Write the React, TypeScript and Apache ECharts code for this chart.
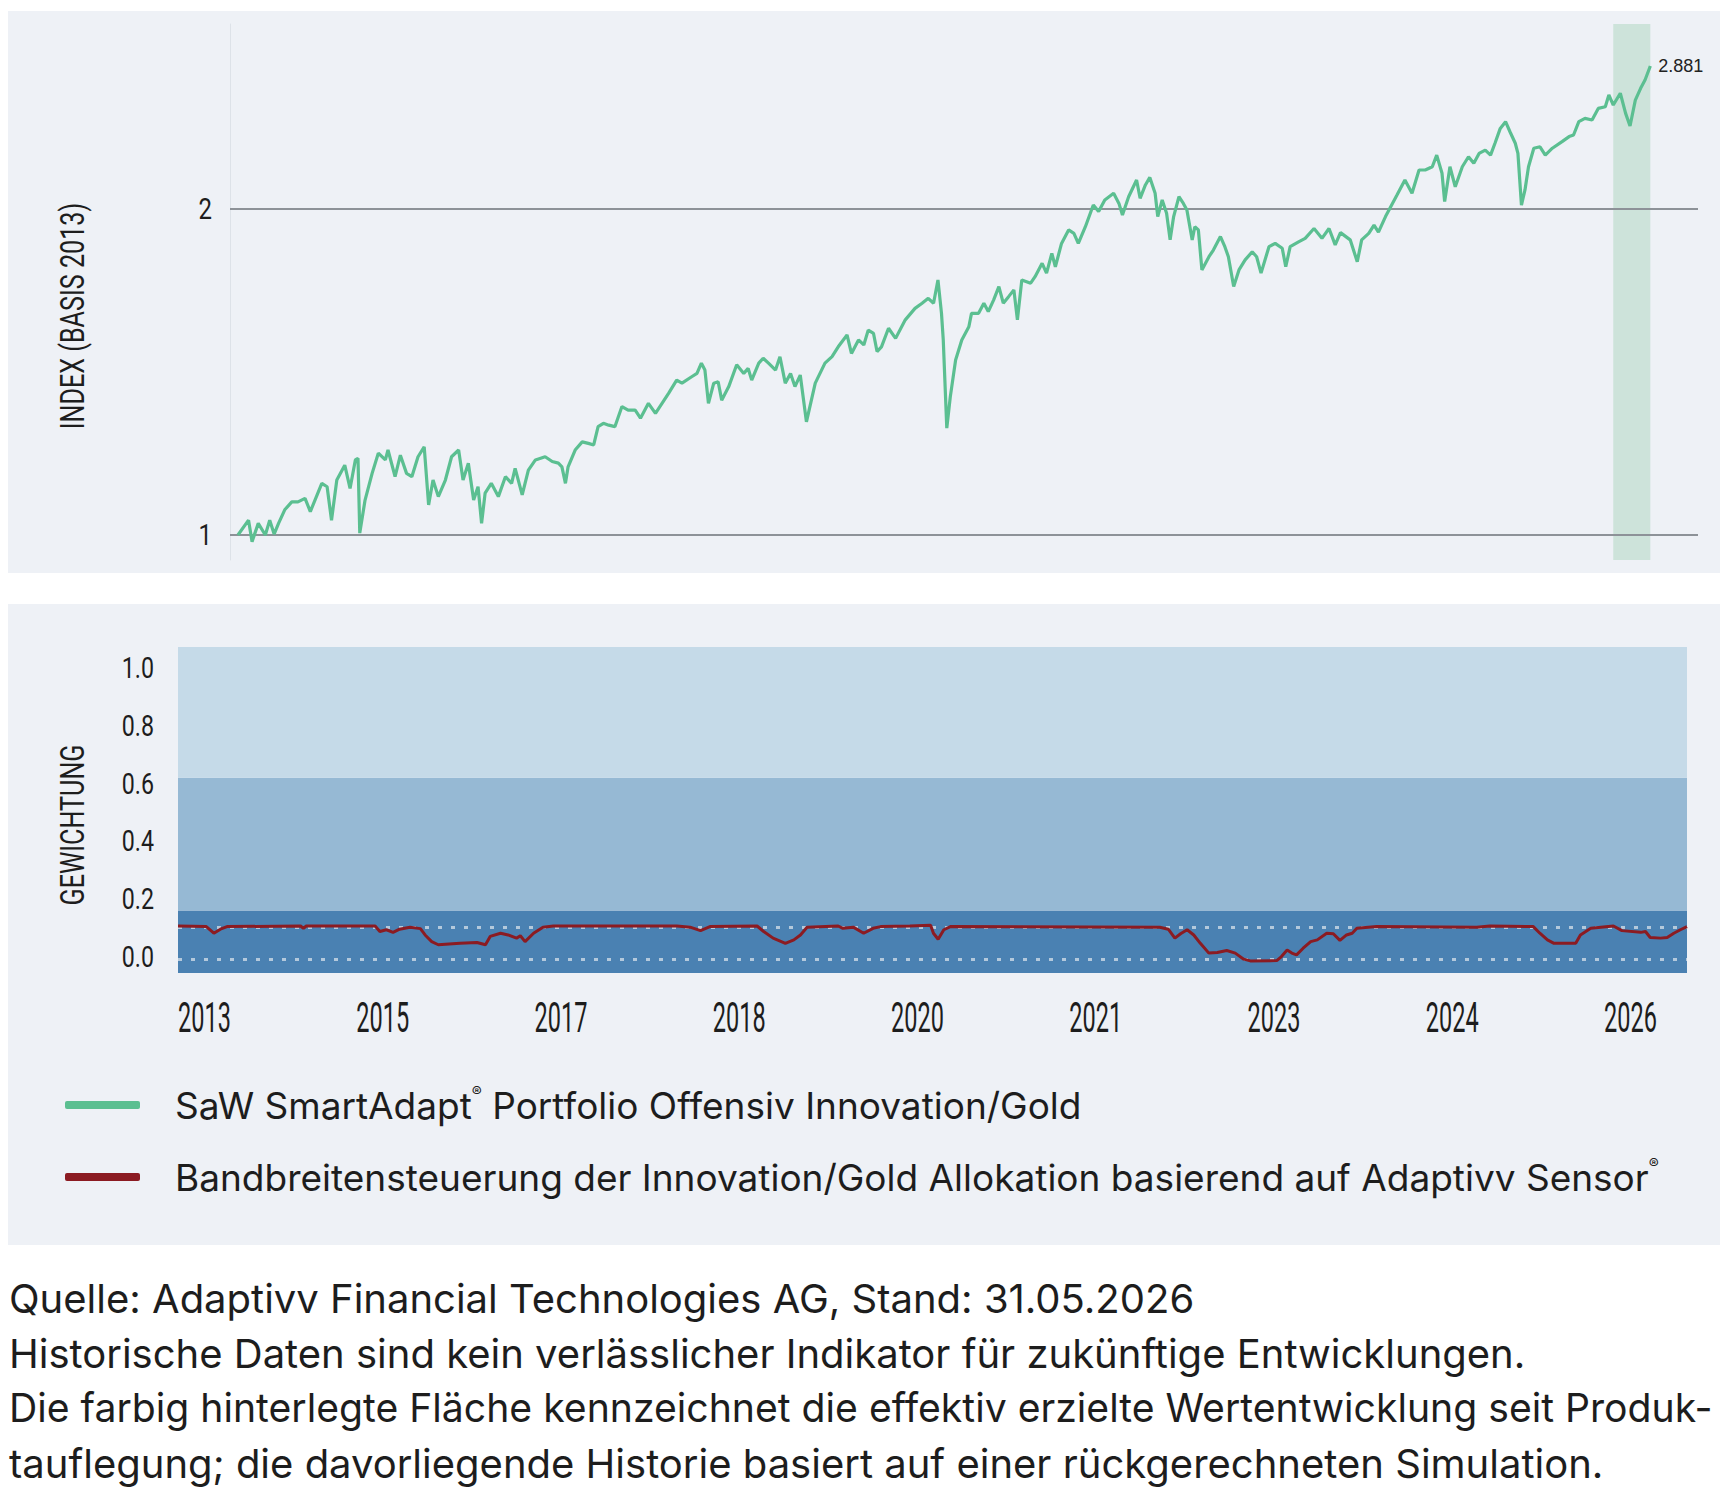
import React, { useEffect, useRef } from "react";
import * as echarts from "echarts";

// fonts
const COND = "Roboto, 'Liberation Sans', sans-serif"; // squeezed with scaleX below
const SANS = "Inter, 'Noto Sans', sans-serif";

const INDEX_NAME = "SaW SmartAdapt® Portfolio Offensiv Innovation/Gold";
const WEIGHT_NAME =
  "Bandbreitensteuerung der Innovation/Gold Allokation basierend auf Adaptivv Sensor®";

// index (basis 2013), [month since start, value]
const INDEX_A: [number, number][] = [
  [0.0, 1.0], [1.2, 1.032], [1.6, 0.986], [2.3, 1.025], [3.1, 1.0], [3.6, 1.032], [4.1, 1.002],
  [4.6, 1.025], [5.3, 1.055], [6.1, 1.073], [6.8, 1.073], [7.6, 1.081], [8.2, 1.051], [9.5, 1.116],
  [10.1, 1.108], [10.6, 1.032], [11.2, 1.124], [12.1, 1.16], [12.7, 1.104], [13.3, 1.173],
  [13.6, 1.177], [13.8, 1.004], [14.4, 1.077], [15.2, 1.14], [15.9, 1.19], [16.7, 1.173],
  [17.0, 1.198], [17.8, 1.132], [18.4, 1.185], [19.1, 1.14], [19.7, 1.132], [20.4, 1.181],
  [21.1, 1.206], [21.6, 1.066], [22.1, 1.124], [22.7, 1.085], [23.5, 1.124], [24.2, 1.181],
  [25.0, 1.198], [25.5, 1.124], [26.1, 1.165], [26.7, 1.077], [27.2, 1.108], [27.6, 1.025],
  [28.0, 1.093], [28.7, 1.116], [29.5, 1.085], [30.3, 1.132], [31.0, 1.116], [31.4, 1.152],
  [32.2, 1.089], [32.9, 1.148], [33.7, 1.173], [34.8, 1.181], [35.6, 1.169], [36.3, 1.165],
  [36.7, 1.156], [37.1, 1.116], [37.4, 1.156], [38.2, 1.198], [39.0, 1.219], [39.7, 1.215],
  [40.3, 1.211], [40.8, 1.259], [41.4, 1.268],
];
const INDEX_B: [number, number][] = [
  [42.0, 1.263], [42.7, 1.259], [43.5, 1.314], [44.2, 1.304], [45.0, 1.304], [45.6, 1.282],
  [46.5, 1.323], [47.3, 1.295], [48.8, 1.352], [49.7, 1.39], [50.3, 1.381], [51.4, 1.4],
  [52.0, 1.41], [52.5, 1.441], [52.9, 1.42], [53.3, 1.323], [53.9, 1.381], [54.4, 1.385],
  [54.8, 1.332], [55.6, 1.371], [56.5, 1.436], [57.3, 1.41], [57.8, 1.425], [58.2, 1.39],
  [59.0, 1.441], [59.5, 1.456], [60.1, 1.441], [60.9, 1.42], [61.4, 1.461], [62.0, 1.381],
  [62.6, 1.41], [63.1, 1.371], [63.7, 1.405], [64.4, 1.272], [65.4, 1.381], [66.5, 1.441],
  [67.3, 1.461], [68.0, 1.492], [69.0, 1.53], [69.5, 1.471], [70.3, 1.514], [70.9, 1.498],
  [71.4, 1.546], [72.0, 1.535], [72.4, 1.477], [72.9, 1.492], [73.7, 1.552], [74.5, 1.519],
  [75.6, 1.58], [76.7, 1.619], [77.5, 1.637], [78.2, 1.654], [78.8, 1.637], [79.3, 1.72],
  [79.7, 1.602], [79.9, 1.514], [80.3, 1.255], [80.7, 1.342], [81.3, 1.451], [82.0, 1.514],
  [82.8, 1.557], [83.1, 1.602],
];
const INDEX_C: [number, number][] = [
  [83.9, 1.602], [84.5, 1.637], [85.0, 1.608], [85.6, 1.648], [86.2, 1.696], [86.7, 1.637],
  [87.3, 1.66], [87.9, 1.684], [88.3, 1.58], [88.8, 1.72], [89.8, 1.708], [90.3, 1.732],
  [91.1, 1.782], [91.6, 1.745], [92.2, 1.82], [92.6, 1.769], [93.3, 1.859], [94.1, 1.913],
  [94.7, 1.899], [95.2, 1.859], [96.0, 1.926], [96.9, 2.017], [97.5, 1.989], [98.2, 2.039],
  [99.2, 2.068], [99.8, 2.024], [100.2, 1.975], [100.9, 2.053], [101.8, 2.127], [102.2, 2.046],
  [102.8, 2.105], [103.3, 2.139], [103.9, 2.068], [104.2, 1.968], [104.7, 2.039], [105.2, 1.982],
  [105.6, 1.873], [106.0, 1.968], [106.6, 2.053], [107.1, 2.024], [107.5, 1.996], [108.1, 1.873],
  [108.4, 1.926], [108.8, 1.913], [109.2, 1.757], [110.0, 1.807], [110.5, 1.833], [111.3, 1.886],
  [111.8, 1.846], [112.2, 1.807], [112.8, 1.696], [113.4, 1.757], [114.1, 1.795], [114.9, 1.826],
  [115.4, 1.807], [115.9, 1.745], [116.8, 1.846], [117.5, 1.859], [118.3, 1.84], [118.7, 1.769],
  [119.2, 1.846], [120.2, 1.866], [120.9, 1.879], [121.9, 1.919], [122.8, 1.879], [123.6, 1.919],
  [124.3, 1.853], [124.9, 1.902],
];
const INDEX_D: [number, number][] = [
  [126.0, 1.873], [126.8, 1.788], [127.3, 1.873], [128.1, 1.899], [128.7, 1.933], [129.2, 1.904],
  [130.0, 1.968], [130.5, 2.003], [131.3, 2.06], [132.2, 2.127], [133.0, 2.068], [133.8, 2.173],
  [134.5, 2.173], [135.3, 2.188], [135.8, 2.243], [136.4, 2.158], [136.7, 2.032], [137.3, 2.188],
  [137.9, 2.097], [138.7, 2.188], [139.4, 2.235], [140.0, 2.204], [140.6, 2.251], [141.3, 2.267],
  [141.9, 2.243], [142.4, 2.3], [143.0, 2.374], [143.6, 2.408], [144.1, 2.357], [144.7, 2.3],
  [145.0, 2.251], [145.4, 2.017], [145.8, 2.083], [146.2, 2.188], [146.8, 2.276], [147.5, 2.283],
  [148.1, 2.243], [148.9, 2.276], [150.0, 2.308], [150.8, 2.333], [151.3, 2.341], [151.9, 2.408],
  [152.6, 2.425], [153.4, 2.417], [154.1, 2.477], [154.9, 2.486], [155.3, 2.549], [155.8, 2.495],
  [156.6, 2.558], [157.2, 2.451], [157.7, 2.386], [158.3, 2.521], [158.9, 2.585], [159.4, 2.631],
  [160.0, 2.711],
];
const INDEX_LAST_LABEL = "2.881";
const INDEX_GRID_VALUES = [1, 2];
const LIVE_PERIOD = [155.8, 160]; // shaded: since product launch

// weighting, [month since start, value]
const WEIGHT_A: [number, number][] = [
  [0.0, 0.106], [3.0, 0.104], [3.8, 0.081], [4.5, 0.095], [5.2, 0.104], [13.0, 0.106],
  [13.3, 0.098], [13.6, 0.106], [20.9, 0.106], [21.4, 0.087], [22.1, 0.093], [22.8, 0.084],
  [23.5, 0.095], [24.6, 0.102], [25.7, 0.097], [26.2, 0.075], [26.9, 0.052], [27.6, 0.041],
  [29.9, 0.046], [31.7, 0.049], [32.6, 0.041], [33.1, 0.07], [34.2, 0.081], [35.0, 0.075],
  [35.9, 0.064], [36.3, 0.072], [36.8, 0.052], [37.7, 0.081], [38.7, 0.102], [39.8, 0.106],
];
const WEIGHT_B: [number, number][] = [
  [52.9, 0.106], [54.3, 0.102], [55.4, 0.09], [56.4, 0.104], [61.4, 0.106], [62.1, 0.087],
  [63.1, 0.064], [64.4, 0.046], [65.3, 0.058], [66.0, 0.075], [66.7, 0.102], [70.0, 0.106],
  [70.5, 0.098], [71.6, 0.102], [72.7, 0.081], [73.7, 0.098], [74.5, 0.104], [77.6, 0.106],
  [79.8, 0.109], [80.1, 0.081], [80.6, 0.06], [81.2, 0.093], [81.9, 0.104],
];
const WEIGHT_C: [number, number][] = [
  [104.1, 0.102], [105.0, 0.095], [105.7, 0.064], [106.3, 0.079], [107.0, 0.093], [107.7, 0.075],
  [108.4, 0.046], [109.3, 0.012], [110.2, 0.014], [111.2, 0.021], [112.1, 0.012], [113.0, -0.009],
  [113.7, -0.015], [116.5, -0.014], [117.0, 0.0], [117.6, 0.023], [118.1, 0.012], [118.6, 0.006],
  [119.3, 0.029], [120.1, 0.052], [120.8, 0.058], [121.8, 0.081], [122.5, 0.079], [123.2, 0.056],
  [123.9, 0.075], [124.5, 0.081], [125.0, 0.098], [127.1, 0.104],
];
const WEIGHT_D: [number, number][] = [
  [137.7, 0.102], [139.1, 0.106], [143.7, 0.104], [144.4, 0.081], [145.2, 0.058], [145.9, 0.046],
  [148.2, 0.046], [148.7, 0.075], [149.8, 0.098], [152.2, 0.106], [153.1, 0.09], [155.1, 0.084],
  [155.6, 0.087], [156.1, 0.066], [157.2, 0.064], [157.9, 0.066], [158.6, 0.081], [159.3, 0.093],
  [160.0, 0.104],
];
const WEIGHT_TICKS = [0, 0.2, 0.4, 0.6, 0.8, 1.0];
const WEIGHT_BAND_EDGES = [0.16, 0.62];
const WEIGHT_DOTTED = [0.102, -0.014];
const WEIGHT_MIN = -0.057;
const WEIGHT_MAX = 1.074;

const X_TICK_LABELS = ["2013", "2015", "2017", "2018", "2020", "2021", "2023", "2024", "2026"];
const X_STEP = 18.9; // months between labels

const INDEX_AXIS_NAME = "INDEX (BASIS 2013)";
const WEIGHT_AXIS_NAME = "GEWICHTUNG";

const FOOTNOTE = [
  "Quelle: Adaptivv Financial Technologies AG, Stand: 31.05.2026",
  "Historische Daten sind kein verlässlicher Indikator für zukünftige Entwicklungen.",
  "Die farbig hinterlegte Fläche kennzeichnet die effektiv erzielte Wertentwicklung seit Produk-",
  "tauflegung; die davorliegende Historie basiert auf einer rückgerechneten Simulation.",
];
const JUSTIFIED_LINE = 2; // this line runs to the right edge in the print

const PANEL = "#eef1f6";
const GREEN = "#5bbf91";
const RED = "#8b1b22";
const INK = "#1d1d1d";

const App: React.FC = () => {
  const chartRef = useRef<HTMLDivElement>(null);

  useEffect(() => {
    if (!chartRef.current) return;
    const chart = echarts.init(chartRef.current, undefined, { renderer: "svg" });
    const indexData = [...INDEX_A, ...INDEX_B, ...INDEX_C, ...INDEX_D];
    const weightData = [...WEIGHT_A, ...WEIGHT_B, ...WEIGHT_C, ...WEIGHT_D];
    const bandColors = ["#4a81b2", "#96b9d4", "#c5dae8"];
    const bandStops = [WEIGHT_MIN, ...WEIGHT_BAND_EDGES, WEIGHT_MAX];

    // footnote lines; the justified one is squeezed to end at the panel edge
    const footSize = 40;
    const measure = document.createElement("canvas").getContext("2d");
    const footLines = FOOTNOTE.map((t, i) => {
      let sx = 1;
      if (i === JUSTIFIED_LINE && measure) {
        measure.font = `${footSize}px ${SANS}`;
        const w = measure.measureText(t).width;
        if (w > 0) sx = Math.min(1, 1703 / w);
      }
      return {
        id: "foot" + i,
        type: "text",
        x: 9,
        y: 1298 + i * 55,
        scaleX: sx,
        style: { text: t, fontFamily: SANS, fontSize: footSize, fill: INK, verticalAlign: "middle" },
      };
    });

    const baseGraphic: any[] = [
      { id: "panel1", type: "rect", z: -10, shape: { x: 8, y: 11, width: 1712, height: 562 }, style: { fill: PANEL } },
      { id: "panel2", type: "rect", z: -10, shape: { x: 8, y: 604, width: 1712, height: 641 }, style: { fill: PANEL } },
      ...footLines,
    ];

    chart.setOption({
      animation: false,
      graphic: { elements: baseGraphic },
      legend: {
        orient: "vertical",
        left: 60,
        top: 1079,
        itemWidth: 75,
        itemHeight: 8,
        itemGap: 30,
        icon: "roundRect",
        selectedMode: false,
        data: [INDEX_NAME, WEIGHT_NAME],
        formatter: (name: string) => name.replace("®", "{sup|®}"),
        textStyle: {
          fontFamily: SANS,
          fontSize: 37,
          lineHeight: 42,
          color: INK,
          padding: [0, 0, 0, 30],
          rich: {
            sup: { fontFamily: SANS, fontSize: 15, color: INK, verticalAlign: "top", lineHeight: 42 },
          },
        },
      },
      grid: [
        { left: 230, right: 37, top: 24, bottom: 944, outerBoundsMode: "none" },
        { left: 178, right: 48, top: 647, bottom: 531, outerBoundsMode: "none" },
      ],
      xAxis: [
        { type: "value", gridIndex: 0, min: -0.9, max: 165.4, show: false },
        {
          type: "value",
          gridIndex: 1,
          min: 0,
          max: 160,
          interval: X_STEP,
          axisLine: { show: false, onZero: false },
          axisTick: { show: false },
          splitLine: { show: false },
          axisLabel: { show: false },
        },
      ],
      yAxis: [
        {
          type: "log",
          logBase: 2,
          gridIndex: 0,
          min: 0.9482,
          max: 2.964,
          axisLine: { show: true, onZero: false, lineStyle: { color: "#dde2e8", width: 1 } },
          axisTick: { show: false },
          axisLabel: { show: false },
          splitLine: { show: false },
        },
        {
          type: "value",
          gridIndex: 1,
          min: WEIGHT_MIN,
          max: WEIGHT_MAX,
          axisLine: { show: false, onZero: false },
          axisTick: { show: false },
          splitLine: { show: false },
          axisLabel: { show: false },
        },
      ],
      series: [
        {
          name: "index-frame",
          type: "line",
          xAxisIndex: 0,
          yAxisIndex: 0,
          data: indexData,
          symbol: "none",
          silent: true,
          z: 1,
          lineStyle: { opacity: 0 },
          markArea: {
            silent: true,
            itemStyle: { color: "#cde3da" },
            data: [[{ xAxis: LIVE_PERIOD[0] }, { xAxis: LIVE_PERIOD[1] }]],
          },
          markLine: {
            silent: true,
            symbol: ["none", "none"],
            lineStyle: { color: "#8d9298", width: 2, type: "solid" },
            label: { show: false },
            data: INDEX_GRID_VALUES.map((v) => ({ yAxis: v })),
          },
        },
        {
          name: INDEX_NAME,
          type: "line",
          xAxisIndex: 0,
          yAxisIndex: 0,
          data: indexData,
          symbol: "none",
          color: GREEN,
          z: 5,
          lineStyle: { color: GREEN, width: 3.2 },
          endLabel: {
            show: true,
            formatter: () => INDEX_LAST_LABEL,
            distance: 8,
            fontFamily: "'Liberation Sans', Arial, sans-serif",
            fontSize: 18,
            color: "#222",
          },
        },
        {
          name: "weight-frame",
          type: "line",
          xAxisIndex: 1,
          yAxisIndex: 1,
          data: weightData,
          symbol: "none",
          silent: true,
          z: 1,
          lineStyle: { opacity: 0 },
          markArea: {
            silent: true,
            data: bandColors.map((c, i) => [
              { yAxis: bandStops[i], itemStyle: { color: c } },
              { yAxis: bandStops[i + 1] },
            ]),
          },
          markLine: {
            silent: true,
            symbol: ["none", "none"],
            label: { show: false },
            lineStyle: { color: "#b4c9dc", width: 3, type: [4, 9] },
            data: WEIGHT_DOTTED.map((v) => ({ yAxis: v })),
          },
        },
        {
          name: WEIGHT_NAME,
          type: "line",
          xAxisIndex: 1,
          yAxisIndex: 1,
          data: weightData,
          symbol: "none",
          color: RED,
          z: 5,
          lineStyle: { color: RED, width: 3 },
        },
      ],
    });

    // condensed tick labels: placed through the axes, drawn as squeezed text
    const toX = (i: number, v: number) => chart.convertToPixel({ xAxisIndex: i }, v) as number;
    const toY = (i: number, v: number) => chart.convertToPixel({ yAxisIndex: i }, v) as number;
    const condText = (id: string, x: number, y: number, text: string, size: number, sx: number, align: string, rot = 0) => ({
      id,
      type: "text",
      x,
      y,
      rotation: rot,
      scaleX: sx,
      style: { text, fontFamily: COND, fontSize: size, fill: INK, textAlign: align, verticalAlign: "middle" },
    });

    const labels: any[] = [];
    const weightBottom = toY(1, WEIGHT_MIN);
    X_TICK_LABELS.forEach((t, k) => {
      labels.push(condText("xl" + k, toX(1, k * X_STEP), weightBottom + 44, t, 42, 0.56, "left"));
    });
    const weightLeft = toX(1, 0);
    WEIGHT_TICKS.forEach((v, k) => {
      labels.push(condText("yl" + k, weightLeft - 24, toY(1, v), v.toFixed(1), 29, 0.8, "right"));
    });
    const indexLeft = toX(0, -0.9);
    INDEX_GRID_VALUES.forEach((v, k) => {
      labels.push(condText("il" + k, indexLeft - 18, toY(0, v), String(v), 30, 0.8, "right"));
    });
    labels.push(condText("iname", indexLeft - 158, 316, INDEX_AXIS_NAME, 34, 0.74, "center", Math.PI / 2));
    labels.push(condText("wname", weightLeft - 106, 825, WEIGHT_AXIS_NAME, 34, 0.74, "center", Math.PI / 2));

    chart.setOption({ graphic: { elements: [...baseGraphic, ...labels] } });

    return () => {
      chart.dispose();
    };
  }, []);

  return (
    <div
      ref={chartRef}
      style={{ position: "fixed", left: 0, top: 0, width: 1735, height: 1504, background: "#fff" }}
    />
  );
};

export default App;
